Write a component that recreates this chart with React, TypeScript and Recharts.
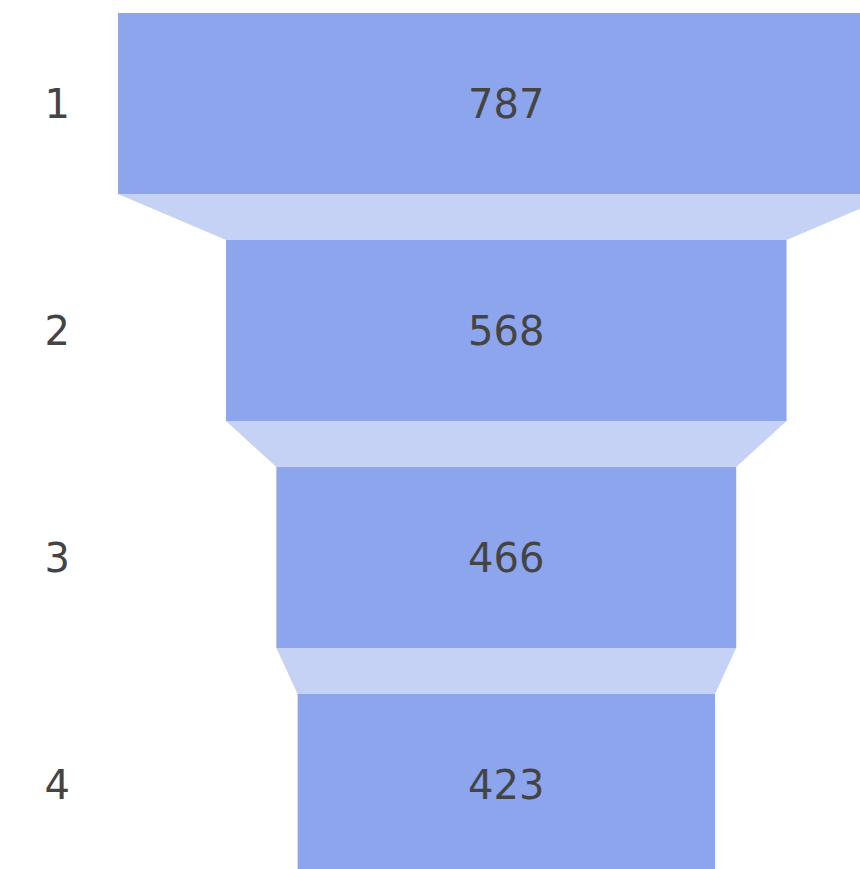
import React from 'react';
import { BarChart, Bar, XAxis, YAxis, LabelList } from 'recharts';

const stages = ['1', '2', '3', '4'];
const counts = [787, 568, 466, 423];

const barColor = '#8DA5ED';
const linkColor = '#C6D2F5';
const textColor = '#444444';
const font = 'DejaVu Sans, Verdana, sans-serif';

// each stage is a range bar centred on zero
const data = stages.map((stage, i) => ({
  stage,
  value: counts[i],
  span: [-counts[i] / 2, counts[i] / 2],
}));

const BAND = 227;
const BAR = 181;

// rectangle plus the trapezoid that joins it to the next stage
const FunnelStep = (props: any) => {
  const { x, y, width, height, index } = props;
  const value = counts[index];
  const next = counts[index + 1];
  const cx = x + width / 2;
  const pxPerUnit = width / value;
  let link = null;
  if (next !== undefined) {
    const nw = next * pxPerUnit;
    const y0 = y + height;
    const y1 = y0 + (BAND - BAR);
    const pts = [
      [x, y0],
      [x + width, y0],
      [cx + nw / 2, y1],
      [cx - nw / 2, y1],
    ]
      .map((p) => p.join(','))
      .join(' ');
    link = <polygon points={pts} fill={linkColor} />;
  }
  return (
    <g>
      {link}
      <rect x={x} y={y} width={width} height={height} fill={barColor} />
    </g>
  );
};

export default function App() {
  return (
    <div style={{ position: 'fixed', left: 0, top: 0, width: 860, height: 869, overflow: 'hidden', background: '#fff' }}>
      <div style={{ position: 'absolute', left: 0, top: -10 }}>
        <BarChart
          width={900}
          height={908}
          data={data}
          layout="vertical"
          margin={{ top: 0, right: 0, bottom: 0, left: 0 }}
        >
          <XAxis type="number" domain={[-432, 399]} hide allowDataOverflow />
          <YAxis
            type="category"
            dataKey="stage"
            width={80}
            axisLine={false}
            tickLine={false}
            tickMargin={4}
            tick={{ fill: textColor, fontSize: 40, fontFamily: font }}
          />
          <Bar dataKey="span" barSize={BAR} shape={<FunnelStep />} isAnimationActive={false}>
            <LabelList
              dataKey="value"
              position="center"
              fill={textColor}
              style={{ fontSize: 40, fontFamily: font }}
            />
          </Bar>
        </BarChart>
      </div>
    </div>
  );
}
